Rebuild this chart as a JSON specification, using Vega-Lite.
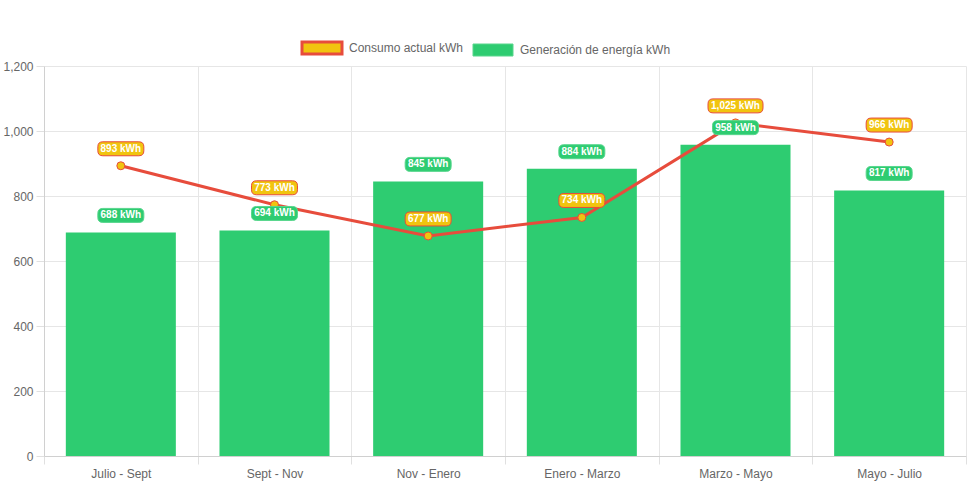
{
  "$schema": "https://vega.github.io/schema/vega-lite/v6.json",
  "width": 922,
  "height": 390,
  "autosize": {"type": "none"},
  "padding": {"left": 44, "top": 66, "right": 5, "bottom": 29},
  "background": "white",
  "config": {
    "font": "Liberation Sans",
    "view": {"stroke": null},
    "axis": {
      "labelColor": "#666666",
      "labelFontSize": 12,
      "labelFont": "Liberation Sans",
      "gridColor": "#e6e6e6",
      "domainColor": "#d0d0d0",
      "tickColor": "#e0e0e0",
      "tickSize": 8,
      "title": null
    }
  },
  "data": {
    "values": [
      {"periodo": "Julio - Sept", "consumo": 893, "generacion": 688},
      {"periodo": "Sept - Nov", "consumo": 773, "generacion": 694},
      {"periodo": "Nov - Enero", "consumo": 677, "generacion": 845},
      {"periodo": "Enero - Marzo", "consumo": 734, "generacion": 884},
      {"periodo": "Marzo - Mayo", "consumo": 1025, "generacion": 958},
      {"periodo": "Mayo - Julio", "consumo": 966, "generacion": 817}
    ]
  },
  "transform": [
    {"calculate": "format(datum.consumo, ',') + ' kWh'", "as": "lc"},
    {"calculate": "format(datum.generacion, ',') + ' kWh'", "as": "lg"}
  ],
  "encoding": {
    "x": {
      "field": "periodo",
      "type": "nominal",
      "sort": null,
      "scale": {"paddingInner": 0, "paddingOuter": 0},
      "axis": {"labelAngle": 0, "tickBand": "extent", "grid": true, "labelPadding": 4, "title": null}
    }
  },
  "layer": [
    {
      "mark": {"type": "bar", "width": {"band": 0.716}},
      "encoding": {
        "y": {
          "field": "generacion",
          "type": "quantitative",
          "scale": {"domain": [0, 1200], "nice": false},
          "axis": {"values": [0, 200, 400, 600, 800, 1000, 1200], "format": ",.0f", "labelPadding": 3, "title": null, "grid": true}
        },
        "color": {
          "datum": "Generación de energía kWh",
          "type": "nominal",
          "scale": {"domain": ["Consumo actual kWh", "Generación de energía kWh"], "range": ["#f1c40f", "#2ecc71"]},
          "legend": {
            "orient": "none",
            "legendX": 272,
            "legendY": -24,
            "direction": "horizontal",
            "title": null,
            "symbolType": "M-1,-0.3L1,-0.3L1,0.3L-1,0.3Z",
            "symbolSize": 1600,
            "symbolOpacity": 1,
            "labelFontSize": 12,
            "labelColor": "#666666",
            "labelFont": "Liberation Sans",
            "labelOffset": 21,
            "columnPadding": 7,
            "encode": {
              "symbols": {
                "update": {
                  "stroke": {"signal": "datum.value === 'Consumo actual kWh' ? '#e74c3c' : '#58d68d'"},
                  "strokeWidth": {"signal": "datum.value === 'Consumo actual kWh' ? 3 : 1"}
                }
              }
            }
          }
        }
      }
    },
    {
      "mark": {"type": "line", "color": "#e74c3c", "strokeWidth": 3},
      "encoding": {
        "y": {"field": "consumo", "type": "quantitative", "title": null}
      }
    },
    {
      "mark": {"type": "point", "shape": "circle", "filled": true, "fill": "#f1c40f", "stroke": "#e74c3c", "strokeWidth": 1, "size": 64, "opacity": 1},
      "encoding": {
        "y": {"field": "consumo", "type": "quantitative", "title": null}
      }
    },
    {
      "mark": {"type": "point", "filled": true, "fill": "#f1c40f", "stroke": "#e74c3c", "strokeWidth": 1, "yOffset": -17, "opacity": 1},
      "encoding": {
        "y": {"field": "consumo", "type": "quantitative", "title": null},
        "shape": {
          "condition": {"test": "datum.consumo >= 1000", "value": "M-0.818,-0.2545L0.818,-0.2545Q1,-0.2545 1,-0.073L1,0.073Q1,0.2545 0.818,0.2545L-0.818,0.2545Q-1,0.2545 -1,0.073L-1,-0.073Q-1,-0.2545 -0.818,-0.2545Z"},
          "value": "M-0.783,-0.304L0.783,-0.304Q1,-0.304 1,-0.087L1,0.087Q1,0.304 0.783,0.304L-0.783,0.304Q-1,0.304 -1,0.087L-1,-0.087Q-1,-0.304 -0.783,-0.304Z"
        },
        "size": {"condition": {"test": "datum.consumo >= 1000", "value": 3025}, "value": 2116}
      }
    },
    {
      "mark": {"type": "text", "color": "white", "fontWeight": "bold", "fontSize": 10, "baseline": "middle", "align": "center", "yOffset": -17},
      "encoding": {
        "y": {"field": "consumo", "type": "quantitative", "title": null},
        "text": {"field": "lc"}
      }
    },
    {
      "mark": {"type": "point", "filled": true, "fill": "#2ecc71", "stroke": "#58d68d", "strokeWidth": 1, "yOffset": -17, "opacity": 1, "size": 2116,
        "shape": "M-0.783,-0.304L0.783,-0.304Q1,-0.304 1,-0.087L1,0.087Q1,0.304 0.783,0.304L-0.783,0.304Q-1,0.304 -1,0.087L-1,-0.087Q-1,-0.304 -0.783,-0.304Z"},
      "encoding": {
        "y": {"field": "generacion", "type": "quantitative", "title": null}
      }
    },
    {
      "mark": {"type": "text", "color": "white", "fontWeight": "bold", "fontSize": 10, "baseline": "middle", "align": "center", "yOffset": -17},
      "encoding": {
        "y": {"field": "generacion", "type": "quantitative", "title": null},
        "text": {"field": "lg"}
      }
    }
  ]
}
